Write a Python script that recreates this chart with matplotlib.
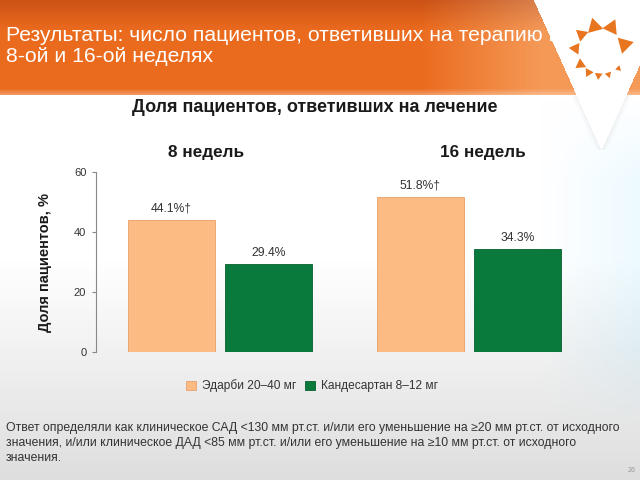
import numpy as np
import matplotlib.pyplot as plt

plt.rcParams['font.family'] = ['Liberation Sans', 'DejaVu Sans']

groups = ['8 недель', '16 недель']
edarbi = [44.1, 51.8]
candesartan = [29.4, 34.3]
edarbi_labels = ['44.1%†', '51.8%†']
cand_labels = ['29.4%', '34.3%']
series_names = ['Эдарби 20–40 мг', 'Кандесартан 8–12 мг']
yticks = [0, 20, 40, 60]

title = 'Результаты: число пациентов, ответивших на терапию на\n8-ой и 16-ой неделях'
chart_title = 'Доля пациентов, ответивших на лечение'
ylabel = 'Доля пациентов, %'
note = ('Ответ определяли как клиническое САД <130 мм рт.ст. и/или его уменьшение на ≥20 мм рт.ст. от исходного\n'
        'значения, и/или клиническое ДАД <85 мм рт.ст. и/или его уменьшение на ≥10 мм рт.ст. от исходного\n'
        'значения.')

orange = '#fdbb84'
green = '#0a7a3c'

fig = plt.figure(figsize=(6.4, 4.8), dpi=100)

# slide background: white fading to grey, orange banner with a white V
H, W = 480, 640
yy, xx = np.mgrid[0:H, 0:W].astype(float)
img = np.ones((H, W, 3))
t = np.clip((yy - 260) / 220, 0, 1)
for c in range(3):
    img[..., c] -= 0.13 * t
tint = np.clip((xx - 540) / 100, 0, 1) * np.clip((yy - 100) / 80, 0, 1) * np.clip((430 - yy) / 80, 0, 1)
img[..., 0] -= 0.07 * tint
img[..., 1] -= 0.02 * tint

band = yy < 95
fx = np.clip((xx - 420) / 120, 0, 1)
fy = np.clip(yy / 30, 0, 1)
r = 0.80 + 0.12 * fy + 0.04 * fx
g = 0.32 + 0.10 * fy + 0.18 * fx
b = 0.08 + 0.04 * fy + 0.22 * fx
lip = np.clip((yy - 88) / 7, 0, 1)
r, g, b = r + (1 - r) * 0.35 * lip, g + (1 - g) * 0.35 * lip, b + (1 - b) * 0.35 * lip
img[..., 0] = np.where(band, np.clip(r, 0, 1), img[..., 0])
img[..., 1] = np.where(band, np.clip(g, 0, 1), img[..., 1])
img[..., 2] = np.where(band, np.clip(b, 0, 1), img[..., 2])
dist = (150 - yy) * 0.45 - np.abs(xx - 601)
shadow = (dist < 0) & (dist > -6) & (yy >= 95) & (yy < 150)
img[shadow] -= (0.05 * (1 + dist[shadow] / 6))[:, None]
img[dist >= 0] = 1.0

bg = fig.add_axes([0, 0, 1, 1], zorder=-10)
bg.imshow(np.clip(img, 0, 1), extent=(0, W, H, 0), aspect='auto')
bg.set_xlim(0, W)
bg.set_ylim(H, 0)
bg.axis('off')

# logo triangles
ang = np.radians([105, 65, 15, -45, -72, -95, -118, -145, 175, 140])
sizes = [170, 170, 190, 25, 30, 40, 55, 80, 95, 110]
for a, s in zip(ang, sizes):
    bg.scatter(600 + 25 * np.cos(a), 50 - 25 * np.sin(a), s=s,
               marker=(3, 0, np.degrees(a) - 90), color='#e8751f', lw=0)

fig.text(6 / 640, 1 - 46 / 480, title, color='white', fontsize=15.2,
         va='center', ha='left', linespacing=1.1)

# chart
ax = fig.add_axes([96 / 640, 128 / 480, 504 / 640, 180 / 480])
ax.patch.set_alpha(0)
x = np.arange(len(groups))
w = 0.35
off = 0.195
b1 = ax.bar(x - off, edarbi, w, color=orange, edgecolor='#e8a06a', lw=0.6, label=series_names[0])
b2 = ax.bar(x + off, candesartan, w, color=green, edgecolor='#06602e', lw=0.6, label=series_names[1])
for bars, labs in [(b1, edarbi_labels), (b2, cand_labels)]:
    for rect, lab in zip(bars, labs):
        ax.annotate(lab, (rect.get_x() + rect.get_width() / 2, rect.get_height()),
                    xytext=(0, 3.5), textcoords='offset points', ha='center', va='bottom',
                    fontsize=8.7, color='#333333')
ax.set_xlim(-0.498, 1.526)
ax.set_ylim(0, 60)
ax.set_yticks(yticks)
ax.set_xticks([])
for s in ['top', 'right', 'bottom']:
    ax.spines[s].set_visible(False)
ax.spines['left'].set_color('#888888')
ax.spines['left'].set_linewidth(0.8)
ax.tick_params(axis='y', length=3, color='#888888', labelsize=8, labelcolor='#333333', pad=4)

fig.text(315 / 640, 1 - 108 / 480, chart_title, fontsize=13, fontweight='bold',
         ha='center', va='center', color='#1a1a1a')
for gx, gname in zip([206, 483], groups):
    fig.text(gx / 640, 1 - 152 / 480, gname, fontsize=12.3, fontweight='bold',
             ha='center', va='center', color='#1a1a1a')
fig.text(45 / 640, 1 - 262 / 480, ylabel, fontsize=10.5, fontweight='bold',
         rotation=90, ha='center', va='center', color='#1a1a1a')

fig.legend(handles=[b1, b2], loc='center', bbox_to_anchor=(312 / 640, 1 - 386 / 480),
           ncol=2, frameon=False, fontsize=8.6, handlelength=0.85, handleheight=0.85,
           handletextpad=0.5, columnspacing=0.7, labelcolor='#333333')

fig.text(6 / 640, 1 - 443 / 480, note, fontsize=8.85, color='#333333',
         ha='left', va='center', linespacing=1.38)
fig.text(632 / 640, 1 - 470 / 480, '26', fontsize=5, color='#999999', ha='center', va='center')

fig.savefig('out.png', dpi=100)
